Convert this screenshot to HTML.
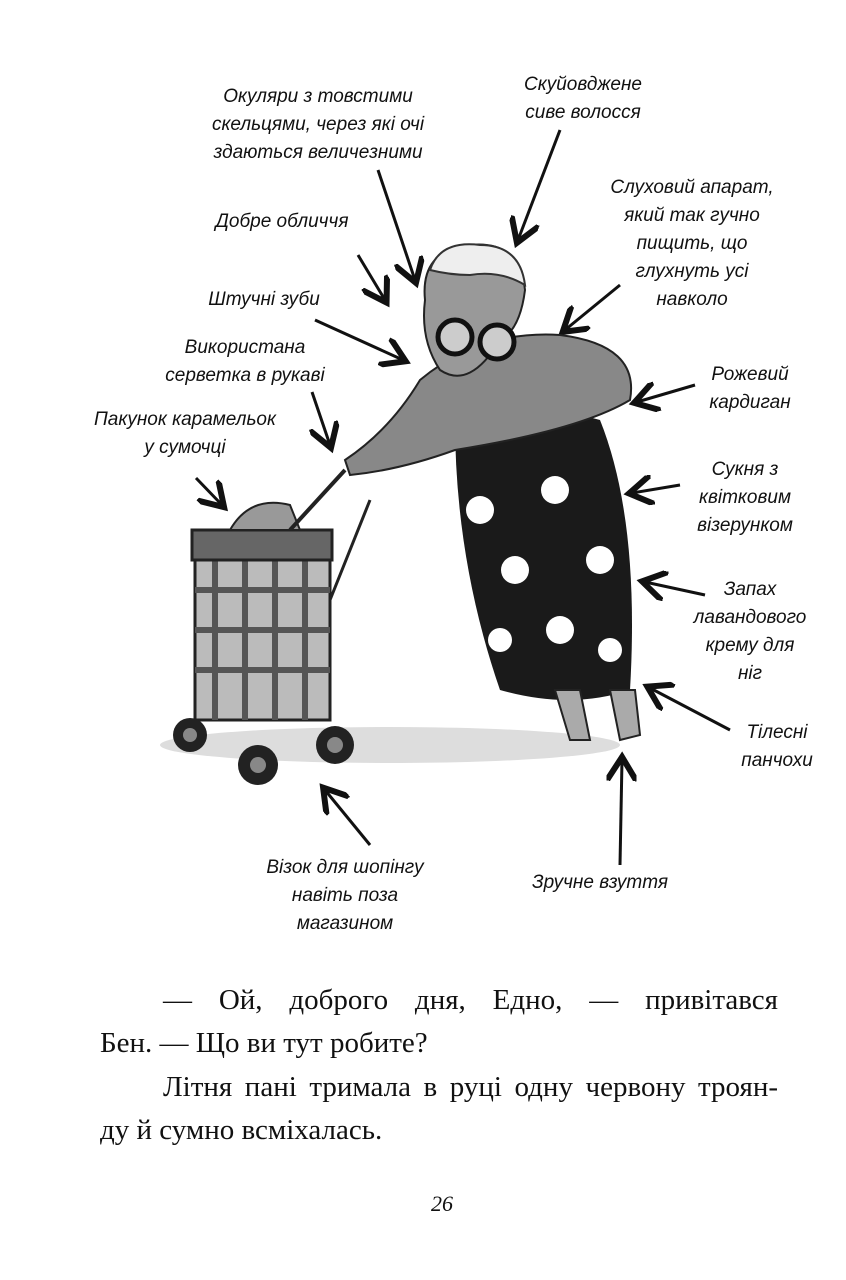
<!DOCTYPE html>
<html><head><meta charset="utf-8"><style>
body{margin:0;width:846px;height:1280px;background:#fff;position:relative;overflow:hidden}
.l{position:absolute;font-family:"Liberation Sans",sans-serif;font-style:italic;font-size:19px;line-height:28px;color:#111;text-align:center;white-space:nowrap;transform:translateX(-50%)}
.t{position:absolute;left:163px;width:615px;font-family:"Liberation Serif",serif;font-size:29px;color:#111;white-space:nowrap;line-height:36px}
.j{text-align:justify;text-align-last:justify}
</style></head><body>
<svg width="846" height="1280" style="position:absolute;left:0;top:0">
<defs><marker id="a" markerWidth="10" markerHeight="10" refX="7" refY="5" orient="auto"><path d="M0,0 L8,5 L0,10" fill="none" stroke="#111" stroke-width="2"/></marker></defs>
<g stroke="#111" stroke-width="3" fill="none" marker-end="url(#a)">
<line x1="378" y1="170" x2="415" y2="280"/>
<line x1="560" y1="130" x2="518" y2="240"/>
<line x1="620" y1="285" x2="565" y2="330"/>
<line x1="358" y1="255" x2="385" y2="300"/>
<line x1="315" y1="320" x2="403" y2="360"/>
<line x1="312" y1="392" x2="330" y2="445"/>
<line x1="196" y1="478" x2="222" y2="505"/>
<line x1="695" y1="385" x2="637" y2="402"/>
<line x1="680" y1="485" x2="632" y2="493"/>
<line x1="705" y1="595" x2="645" y2="582"/>
<line x1="730" y1="730" x2="650" y2="688"/>
<line x1="620" y1="865" x2="622" y2="760"/>
<line x1="370" y1="845" x2="325" y2="790"/>
</g>
<ellipse cx="390" cy="745" rx="230" ry="18" fill="#ddd"/>
<rect x="195" y="540" width="135" height="180" fill="#bbb" stroke="#222" stroke-width="3"/>
<g stroke="#555" stroke-width="6">
<line x1="215" y1="545" x2="215" y2="720"/><line x1="245" y1="545" x2="245" y2="720"/><line x1="275" y1="545" x2="275" y2="720"/><line x1="305" y1="545" x2="305" y2="720"/>
<line x1="195" y1="590" x2="330" y2="590"/><line x1="195" y1="630" x2="330" y2="630"/><line x1="195" y1="670" x2="330" y2="670"/></g>
<rect x="192" y="530" width="140" height="30" fill="#666" stroke="#222" stroke-width="3"/>
<path d="M230 530 Q250 495 290 505 L300 530Z" fill="#999" stroke="#222" stroke-width="2"/>
<line x1="290" y1="530" x2="345" y2="470" stroke="#222" stroke-width="4"/>
<line x1="330" y1="600" x2="370" y2="500" stroke="#222" stroke-width="3"/>
<g fill="#222"><circle cx="190" cy="735" r="17"/><circle cx="258" cy="765" r="20"/><circle cx="335" cy="745" r="19"/></g>
<g fill="#888"><circle cx="190" cy="735" r="7"/><circle cx="258" cy="765" r="8"/><circle cx="335" cy="745" r="8"/></g>
<path d="M455 420 Q530 400 600 420 Q640 520 630 690 Q570 710 500 690 Q455 560 455 420Z" fill="#1a1a1a"/>
<path d="M420 380 Q480 330 560 335 Q640 345 630 400 Q580 430 455 450 Q400 470 350 475 L345 460 Q390 430 420 380Z" fill="#888" stroke="#222" stroke-width="2"/>
<g fill="#fff"><circle cx="480" cy="510" r="14"/><circle cx="555" cy="490" r="14"/><circle cx="600" cy="560" r="14"/><circle cx="515" cy="570" r="14"/><circle cx="560" cy="630" r="14"/><circle cx="500" cy="640" r="12"/><circle cx="610" cy="650" r="12"/></g>
<path d="M555 690 L570 740 L590 740 L580 690Z M610 690 L620 740 L640 735 L635 690Z" fill="#aaa" stroke="#222" stroke-width="2"/>
<path d="M425 300 Q420 250 470 245 Q520 240 525 290 Q520 330 500 340 Q470 390 440 370 Q420 340 425 300Z" fill="#999" stroke="#222" stroke-width="2"/>
<path d="M430 270 Q440 240 480 245 Q520 245 525 285 Q500 270 470 275 Q450 275 430 270Z" fill="#eee" stroke="#333" stroke-width="2"/>
<circle cx="455" cy="337" r="17" fill="#ccc" stroke="#111" stroke-width="5"/>
<circle cx="497" cy="342" r="17" fill="#ccc" stroke="#111" stroke-width="5"/>
</svg>
<div class="l" style="left:318px;top:83px">Окуляри з товстими<br>скельцями, через які очі<br>здаються величезними</div>
<div class="l" style="left:583px;top:71px">Скуйовджене<br>сиве волосся</div>
<div class="l" style="left:692px;top:174px">Слуховий апарат,<br>який так гучно<br>пищить, що<br>глухнуть усі<br>навколо</div>
<div class="l" style="left:282px;top:208px">Добре обличчя</div>
<div class="l" style="left:264px;top:286px">Штучні зуби</div>
<div class="l" style="left:245px;top:334px">Використана<br>серветка в рукаві</div>
<div class="l" style="left:185px;top:406px">Пакунок карамельок<br>у сумочці</div>
<div class="l" style="left:750px;top:361px">Рожевий<br>кардиган</div>
<div class="l" style="left:745px;top:456px">Сукня з<br>квітковим<br>візерунком</div>
<div class="l" style="left:750px;top:576px">Запах<br>лавандового<br>крему для<br>ніг</div>
<div class="l" style="left:777px;top:719px">Тілесні<br>панчохи</div>
<div class="l" style="left:345px;top:854px">Візок для шопінгу<br>навіть поза<br>магазином</div>
<div class="l" style="left:600px;top:869px">Зручне взуття</div>
<div class="t j" style="top:982px">— Ой, доброго дня, Едно, — привітався</div>
<div class="t" style="left:100px;top:1025px">Бен. — Що ви тут робите?</div>
<div class="t j" style="top:1069px">Літня пані тримала в руці одну червону троян-</div>
<div class="t" style="left:100px;top:1112px">ду й сумно всміхалась.</div>
<div class="t" style="left:431px;width:auto;top:1186px;font-style:italic;font-size:22px">26</div>
</body></html>
